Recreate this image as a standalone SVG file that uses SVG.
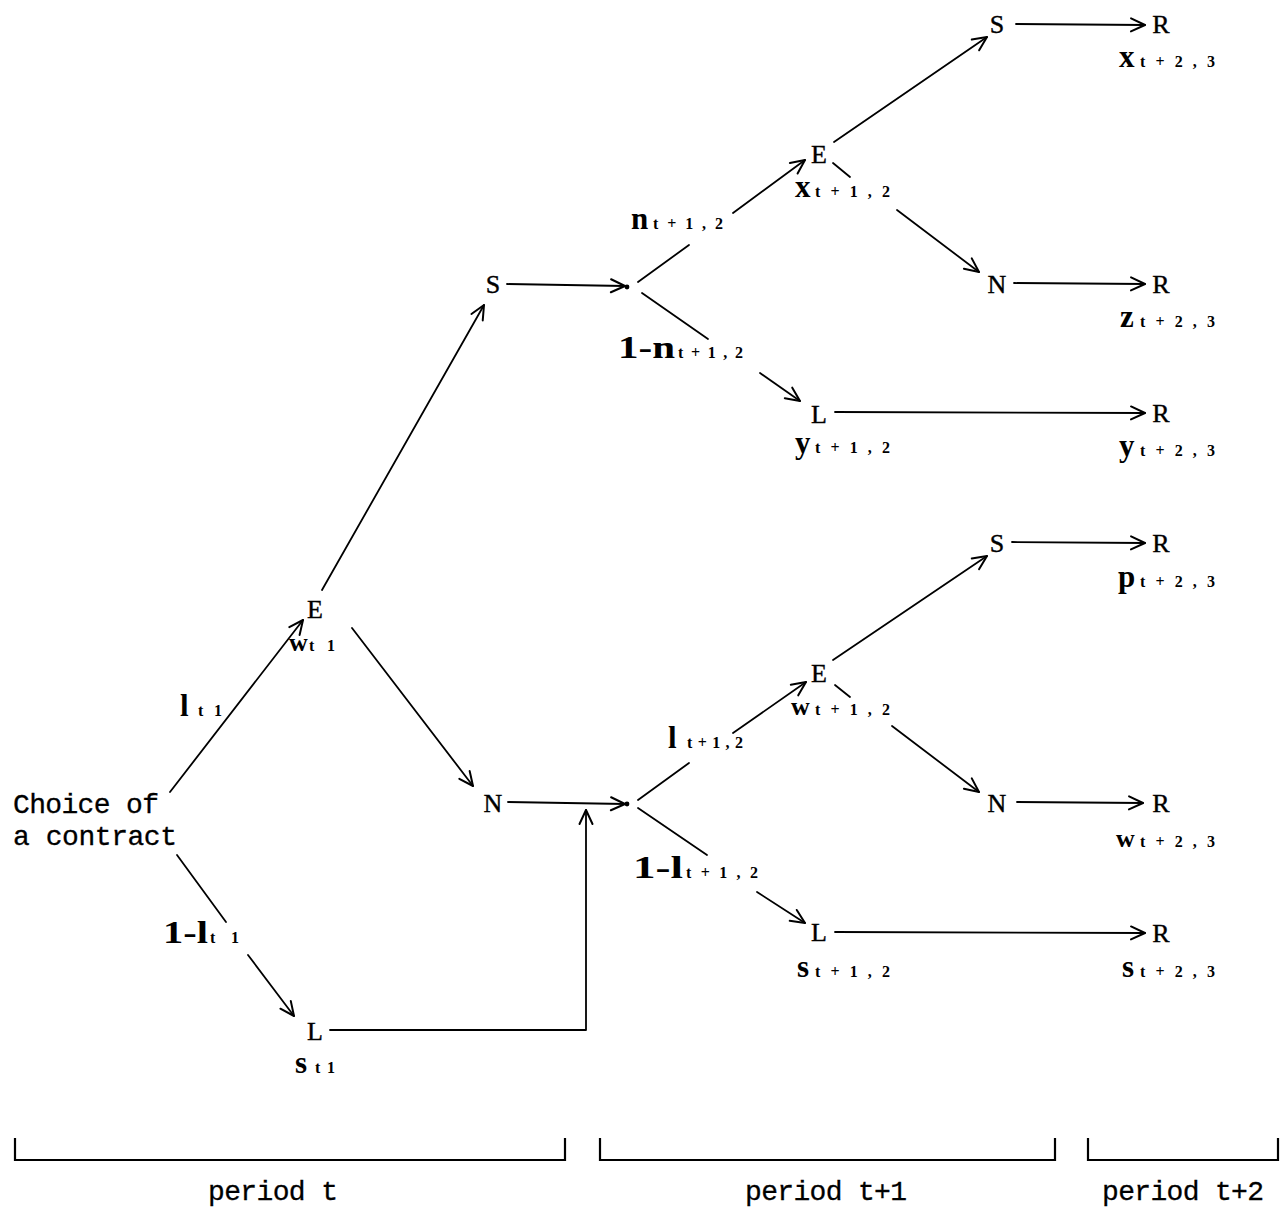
<svg xmlns="http://www.w3.org/2000/svg" width="1280" height="1207" viewBox="0 0 1280 1207">
<style>
.node{font-family:"Liberation Serif","Times New Roman",serif;font-size:26px;fill:#000;stroke:#000;stroke-width:0.4;text-anchor:middle}
.main{font-family:"Liberation Serif","Times New Roman",serif;font-size:31px;font-weight:bold;fill:#000}
.sub{font-family:"Liberation Serif","Times New Roman",serif;font-size:16px;font-weight:bold;fill:#000}
.txt{font-family:"Liberation Mono","Courier New",monospace;font-size:28px;fill:#000;stroke:#000;stroke-width:0.3}
.edge{fill:none;stroke:#000;stroke-width:1.8;stroke-linecap:round;stroke-linejoin:round}
.arr{marker-end:url(#ah)}
.br{fill:none;stroke:#000;stroke-width:2.2}
</style>
<defs>
<marker id="ah" markerUnits="userSpaceOnUse" markerWidth="18" markerHeight="16" viewBox="0 0 18 16" refX="16" refY="8" orient="auto">
<path d="M2,1.5 L16,8 L2,14.5" fill="none" stroke="#000" stroke-width="2" stroke-linecap="round" stroke-linejoin="round"/>
</marker>
</defs>
<rect width="1280" height="1207" fill="#fff"/>

<g id="connectors">
<path class="edge arr" d="M170,792 L303,620"/>
<path class="edge" d="M177,855 L226,922"/>
<path class="edge arr" d="M248,955 L294,1016"/>
<path class="edge arr" d="M322,590 L484,305"/>
<path class="edge arr" d="M352,628 L473,786"/>
<path class="edge arr" d="M507,284 L625,286"/>
<path class="edge" d="M638,282 L689,245"/>
<path class="edge arr" d="M733,213 L805,160"/>
<path class="edge" d="M642,293 L708,339"/>
<path class="edge arr" d="M760,373 L800,401"/>
<path class="edge arr" d="M834,142 L987,37"/>
<path class="edge" d="M833,163 L850,177"/>
<path class="edge arr" d="M897,210 L979,272"/>
<path class="edge arr" d="M1016,24 L1145,25"/>
<path class="edge arr" d="M1014,283 L1145,284"/>
<path class="edge arr" d="M835,412 L1145,413"/>
<path class="edge arr" d="M508,802 L625,804"/>
<path class="edge arr" d="M330,1030 L586,1030 L586,810"/>
<path class="edge" d="M638,800 L689,763"/>
<path class="edge arr" d="M733,733 L806,682"/>
<path class="edge" d="M638,808 L707,855"/>
<path class="edge arr" d="M757,892 L805,923"/>
<path class="edge arr" d="M833,660 L987,556"/>
<path class="edge" d="M835,685 L850,697"/>
<path class="edge arr" d="M892,726 L979,792"/>
<path class="edge arr" d="M1012,542 L1145,543"/>
<path class="edge arr" d="M1017,802 L1143,803"/>
<path class="edge arr" d="M835,932 L1145,933"/>
<circle cx="627" cy="287" r="2.4" fill="#000"/>
<circle cx="627" cy="804" r="2.4" fill="#000"/>
</g>

<g id="edge-labels">
<g id="lbl-l-t1"><text class="main" x="180" y="716">l</text><text class="sub" x="198" y="716" textLength="24">t1</text></g>
<g id="lbl-1-l-t1"><text class="main" x="163" y="943" textLength="45" lengthAdjust="spacingAndGlyphs">1-l</text><text class="sub" x="210" y="943" textLength="29">t1</text></g>
<g id="lbl-n"><text class="main" x="631" y="229">n</text><text class="sub" x="653" y="229" textLength="70">t+1,2</text></g>
<g id="lbl-1-n"><text class="main" x="618" y="358" textLength="57" lengthAdjust="spacingAndGlyphs">1-n</text><text class="sub" x="678" y="358" textLength="65">t+1,2</text></g>
<g id="lbl-l2"><text class="main" x="668" y="748">l</text><text class="sub" x="687" y="748" textLength="56">t+1,2</text></g>
<g id="lbl-1-l2"><text class="main" x="633" y="878" textLength="50" lengthAdjust="spacingAndGlyphs">1-l</text><text class="sub" x="686" y="878" textLength="72">t+1,2</text></g>
</g>

<g id="node-choice"><text class="txt" x="13" y="813" textLength="146">Choice of</text><text class="txt" x="13" y="845" textLength="164">a contract</text></g>
<g id="node-E1"><text class="node" x="315" y="618">E</text><text class="main" x="289" y="651" style="font-size:26px">w</text><text class="sub" x="309" y="651" textLength="26">t1</text></g>
<g id="node-L1"><text class="node" x="315" y="1040">L</text><text class="main" x="295" y="1073">s</text><text class="sub" x="315" y="1073" textLength="20">t1</text></g>
<g id="node-S2"><text class="node" x="493" y="293">S</text></g>
<g id="node-N2"><text class="node" x="493" y="812">N</text></g>
<g id="node-E3"><text class="node" x="819" y="163">E</text><text class="main" x="795" y="197">x</text><text class="sub" x="815" y="197" textLength="75">t+1,2</text></g>
<g id="node-L3"><text class="node" x="819" y="423">L</text><text class="main" x="795" y="453">y</text><text class="sub" x="815" y="453" textLength="75">t+1,2</text></g>
<g id="node-E4"><text class="node" x="819" y="682">E</text><text class="main" x="791" y="715" style="font-size:26px">w</text><text class="sub" x="815" y="715" textLength="75">t+1,2</text></g>
<g id="node-L4"><text class="node" x="819" y="941">L</text><text class="main" x="797" y="977">s</text><text class="sub" x="815" y="977" textLength="75">t+1,2</text></g>
<g id="node-S5"><text class="node" x="997" y="33">S</text></g>
<g id="node-N5"><text class="node" x="997" y="293">N</text></g>
<g id="node-S6"><text class="node" x="997" y="552">S</text></g>
<g id="node-N6"><text class="node" x="997" y="812">N</text></g>
<g id="node-R1"><text class="node" x="1161" y="33">R</text><text class="main" x="1119" y="67">x</text><text class="sub" x="1140" y="67" textLength="75">t+2,3</text></g>
<g id="node-R2"><text class="node" x="1161" y="293">R</text><text class="main" x="1120" y="327">z</text><text class="sub" x="1140" y="327" textLength="75">t+2,3</text></g>
<g id="node-R3"><text class="node" x="1161" y="422">R</text><text class="main" x="1119" y="456">y</text><text class="sub" x="1140" y="456" textLength="75">t+2,3</text></g>
<g id="node-R4"><text class="node" x="1161" y="552">R</text><text class="main" x="1118" y="587">p</text><text class="sub" x="1140" y="587" textLength="75">t+2,3</text></g>
<g id="node-R5"><text class="node" x="1161" y="812">R</text><text class="main" x="1116" y="847" style="font-size:26px">w</text><text class="sub" x="1140" y="847" textLength="75">t+2,3</text></g>
<g id="node-R6"><text class="node" x="1161" y="942">R</text><text class="main" x="1122" y="977">s</text><text class="sub" x="1140" y="977" textLength="75">t+2,3</text></g>

<g id="periods">
<path class="br" d="M15,1138 L15,1160 L565,1160 L565,1138"/>
<path class="br" d="M600,1138 L600,1160 L1055,1160 L1055,1138"/>
<path class="br" d="M1088,1138 L1088,1160 L1278,1160 L1278,1138"/>
<text class="txt" x="208" y="1200" textLength="130">period t</text>
<text class="txt" x="745" y="1200" textLength="162">period t+1</text>
<text class="txt" x="1102" y="1200" textLength="162">period t+2</text>
</g>
</svg>
